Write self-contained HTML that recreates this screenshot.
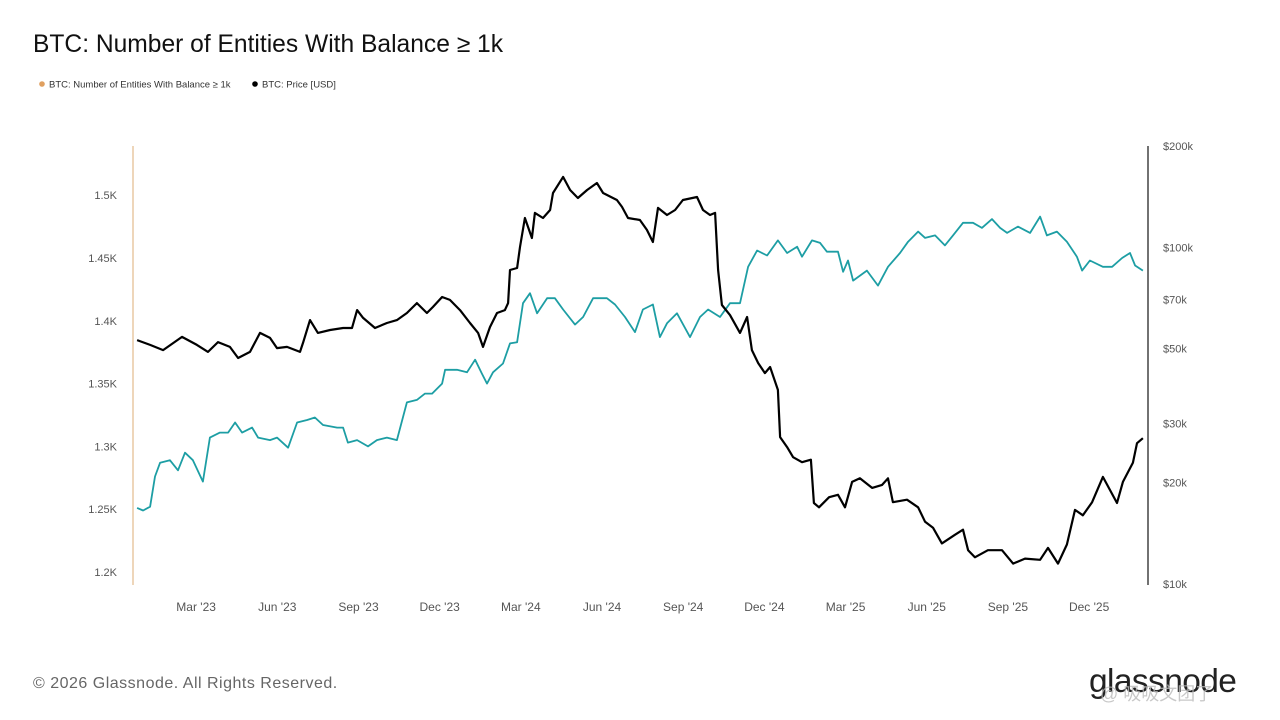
<!DOCTYPE html>
<html><head><meta charset="utf-8">
<style>
body{margin:0;background:#fff;width:1280px;height:720px;overflow:hidden;font-family:"Liberation Sans","Noto Sans CJK SC",sans-serif;}
svg{position:absolute;left:0;top:0}
</style></head>
<body>
<svg id="chart" width="1280" height="720" viewBox="0 0 1280 720">
  <text x="33" y="52" font-size="24.6" fill="#111">BTC: Number of Entities With Balance ≥ 1k</text>
  <g>
    <circle cx="42" cy="84" r="2.8" fill="#e0a060"/>
    <text x="49" y="87.5" font-size="9.5" fill="#333">BTC: Number of Entities With Balance ≥ 1k</text>
    <circle cx="255" cy="84" r="2.8" fill="#000"/>
    <text x="262" y="87.5" font-size="9.5" fill="#333">BTC: Price [USD]</text>
  </g>
  <line x1="133" y1="146" x2="133" y2="585" stroke="#e8c9a4" stroke-width="1.5"/>
  <line x1="1148" y1="146" x2="1148" y2="585" stroke="#444" stroke-width="1.5"/>
  <g id="yLeft"></g>
  <g id="yRight"></g>
  <g id="xAxis"></g>
  <g id="series"></g>
  <text x="33" y="688" font-size="16" fill="#666" letter-spacing="0.5">© 2026 Glassnode. All Rights Reserved.</text>
  <text x="1089" y="692" font-size="33.5" fill="#222" letter-spacing="-0.6">glassnode</text>
  <text x="1100" y="700" font-size="18" fill="#bbb" opacity="0.8">@ 吸吸文团了</text>
</svg>
<script>
// x: months since Jan 1 2023
const entT = [-0.18,0.04,0.30,0.48,0.67,1.03,1.33,1.59,1.88,2.25,2.51,2.88,3.18,3.44,3.70,4.07,4.29,4.73,4.99,5.40,5.73,6.10,6.39,6.69,7.21,7.43,7.61,7.95,8.35,8.68,9.05,9.42,9.79,10.16,10.46,10.72,11.09,11.20,11.64,12.01,12.31,12.56,12.75,12.97,13.34,13.60,13.86,14.08,14.34,14.60,14.97,15.26,15.56,16.00,16.30,16.67,17.18,17.48,17.85,18.22,18.51,18.88,19.14,19.40,19.77,20.25,20.62,20.92,21.36,21.73,22.10,22.40,22.73,23.10,23.50,23.84,24.21,24.39,24.76,25.06,25.31,25.72,25.91,26.09,26.28,26.79,27.20,27.57,28.01,28.31,28.68,28.94,29.31,29.67,29.97,30.34,30.71,31.04,31.41,31.71,31.97,32.37,32.82,33.19,33.44,33.81,34.18,34.55,34.74,35.03,35.51,35.85,36.22,36.51,36.70,36.99];
const entVals = [1251,1249,1252,1276,1287,1289,1281,1295,1289,1272,1307,1311,1311,1319,1311,1315,1307,1305,1307,1299,1319,1321,1323,1317,1315,1315,1303,1305,1300,1305,1307,1305,1335,1337,1342,1342,1350,1361,1361,1359,1369,1358,1350,1359,1366,1382,1383,1414,1422,1406,1418,1418,1409,1397,1403,1418,1418,1413,1403,1391,1409,1413,1387,1398,1406,1387,1403,1409,1403,1414,1414,1443,1456,1452,1464,1454,1459,1451,1464,1462,1455,1455,1439,1448,1432,1440,1428,1443,1454,1463,1471,1466,1468,1460,1468,1478,1478,1474,1481,1474,1470,1475,1470,1483,1468,1471,1463,1451,1440,1448,1443,1443,1450,1454,1444,1440];
const priceT = [-0.18,0.30,0.78,1.48,2.03,2.44,2.81,3.25,3.55,3.99,4.36,4.73,4.99,5.36,5.84,5.95,6.21,6.50,6.95,7.43,7.76,7.95,8.17,8.61,9.05,9.42,9.79,10.16,10.53,10.75,11.09,11.38,11.75,12.12,12.42,12.60,12.86,13.12,13.41,13.53,13.60,13.86,13.97,14.15,14.41,14.52,14.82,15.08,15.19,15.56,15.82,16.11,16.45,16.81,17.04,17.55,17.74,17.96,18.40,18.66,18.88,19.07,19.40,19.70,19.99,20.51,20.73,20.99,21.18,21.29,21.43,21.73,22.10,22.36,22.54,22.77,23.02,23.21,23.50,23.58,23.84,24.06,24.39,24.72,24.83,25.02,25.39,25.72,25.98,26.24,26.53,26.98,27.35,27.57,27.75,28.27,28.68,28.94,29.23,29.56,30.04,30.34,30.53,30.78,31.26,31.78,32.19,32.63,33.19,33.48,33.85,34.18,34.48,34.77,35.11,35.51,36.03,36.25,36.62,36.77,36.99];
const priceVals = [53.0,51.3,49.5,54.2,51.3,48.9,52.3,50.6,46.9,48.9,55.7,53.8,50.2,50.6,48.9,52.0,60.8,55.7,56.8,57.6,57.6,65.1,61.7,57.6,59.6,60.8,63.8,68.3,63.8,66.5,71.2,69.8,65.1,59.6,55.7,50.6,58.0,63.8,65.1,68.3,85.6,86.8,100.2,122.2,106.6,126.5,122.2,129.1,145.0,161.8,148.0,140.1,148.0,155.2,145.0,138.2,131.8,122.2,120.5,112.6,103.7,130.9,124.7,129.1,138.2,141.1,129.1,124.7,126.5,85.6,67.4,62.9,55.7,62.1,49.5,45.3,42.3,44.1,37.7,27.3,25.5,23.8,23.0,23.4,17.4,16.9,18.1,18.4,16.9,20.1,20.6,19.3,19.7,20.6,17.5,17.8,16.9,15.3,14.7,13.2,14.0,14.5,12.6,12.0,12.6,12.6,11.5,11.9,11.8,12.8,11.5,13.1,16.6,16.0,17.5,20.8,17.4,20.1,22.9,26.2,27.1];
const leftTicks = [1200,1250,1300,1350,1400,1450,1500];
const leftLabels = ["1.2K","1.25K","1.3K","1.35K","1.4K","1.45K","1.5K"];
const rightTicks = [10,20,30,50,70,100,200];
const rightLabels = ["$10k","$20k","$30k","$50k","$70k","$100k","$200k"];
const xTicks = [2,5,8,11,14,17,20,23,26,29,32,35];
const xLabels = ["Mar '23","Jun '23","Sep '23","Dec '23","Mar '24","Jun '24","Sep '24","Dec '24","Mar '25","Jun '25","Sep '25","Dec '25"];

const NS="http://www.w3.org/2000/svg";
const xS = t => 142 + t*27.06;
const yL = v => 572 - (v-1200)/50*62.8;
const yR = p => 584 - Math.log10(p/10)*336.7;

const gl=document.getElementById('yLeft');
leftTicks.forEach((v,i)=>{const t=document.createElementNS(NS,'text');


t.setAttribute('x',117);t.setAttribute('y',yL(v)+4);t.setAttribute('text-anchor','end');
t.setAttribute('font-size','11');t.setAttribute('fill','#555');t.textContent=leftLabels[i];gl.appendChild(t);});
const gr=document.getElementById('yRight');
rightTicks.forEach((v,i)=>{const t=document.createElementNS(NS,'text');


t.setAttribute('x',1163);t.setAttribute('y',yR(v)+4);
t.setAttribute('font-size','11');t.setAttribute('fill','#555');t.textContent=rightLabels[i];gr.appendChild(t);});
const gx=document.getElementById('xAxis');
xTicks.forEach((v,i)=>{const t=document.createElementNS(NS,'text');


t.setAttribute('x',xS(v));t.setAttribute('y',611);t.setAttribute('text-anchor','middle');
t.setAttribute('font-size','12');t.setAttribute('fill','#555');t.textContent=xLabels[i];gx.appendChild(t);});

const gs=document.getElementById('series');
function line(ts,vs,yf,color,w,name){const p=document.createElementNS(NS,'polyline');


p.setAttribute('points',ts.map((t,i)=>xS(t).toFixed(1)+','+yf(vs[i]).toFixed(1)).join(' '));
p.setAttribute('fill','none');p.setAttribute('stroke',color);p.setAttribute('stroke-width',w);p.setAttribute('stroke-linejoin','round');
gs.appendChild(p);}
line(entT,entVals,yL,'#1d9ea4',1.8,'entities-line');
line(priceT,priceVals,yR,'#000',2.2,'price-line');
</script>
</body></html>
